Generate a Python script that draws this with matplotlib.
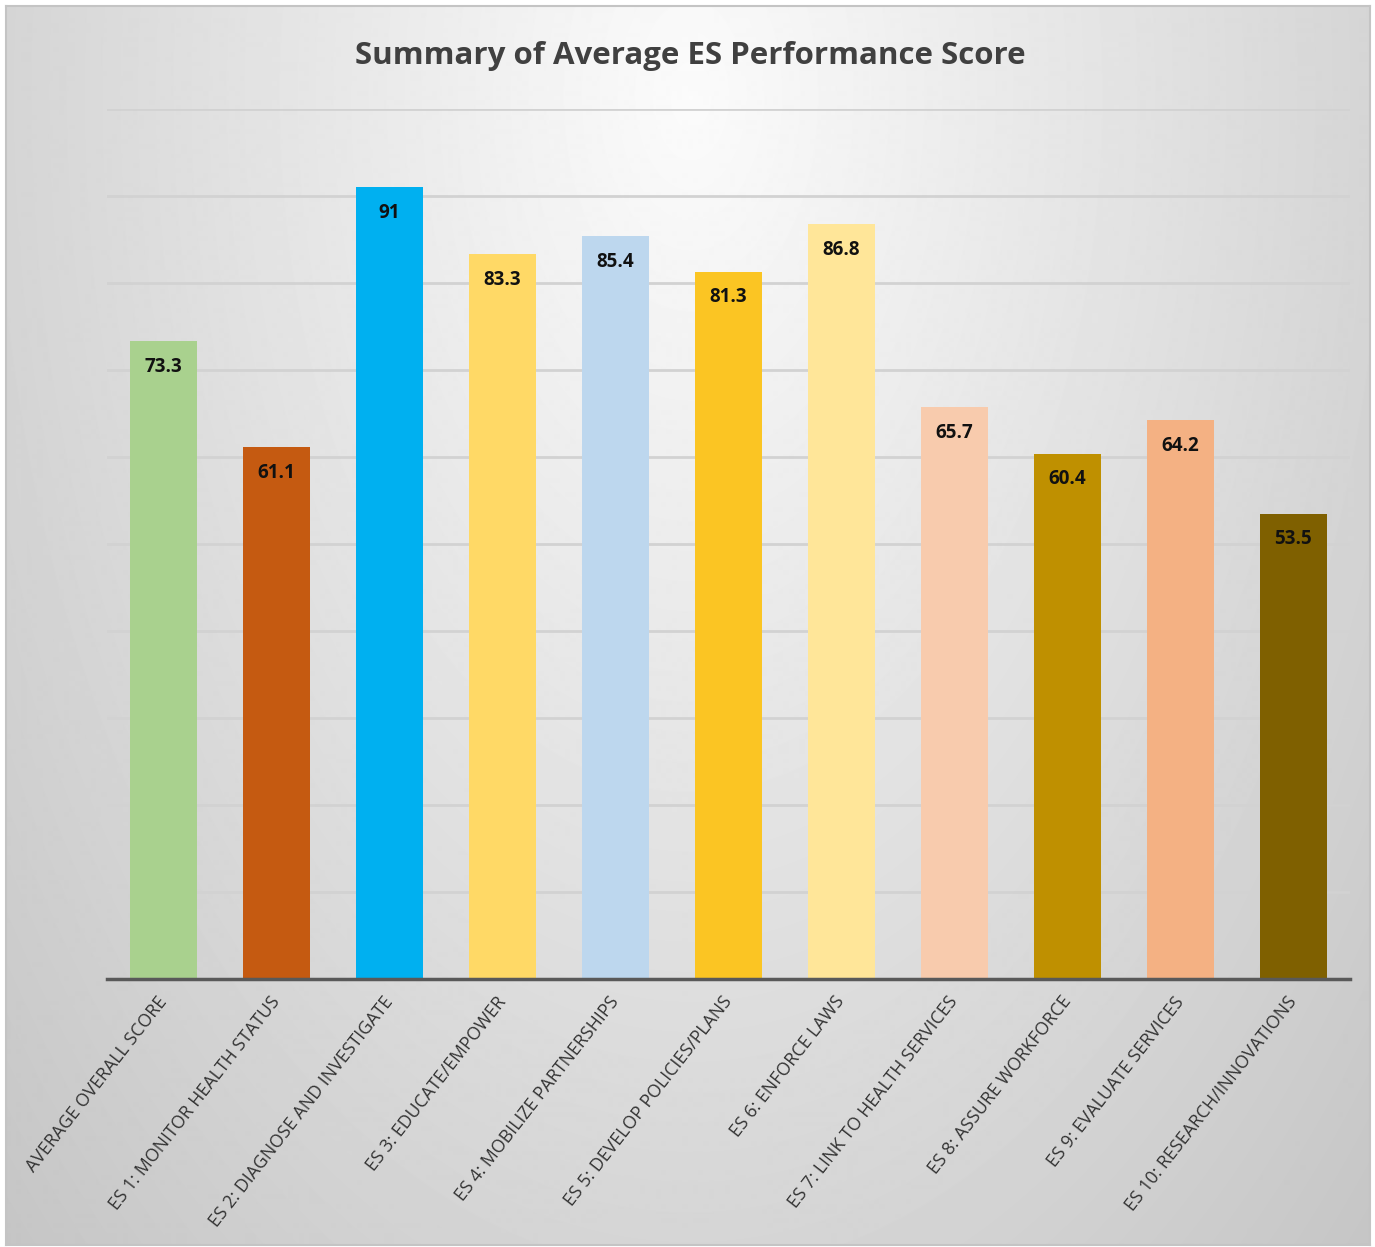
import numpy as np
import matplotlib
matplotlib.use("Agg")
import matplotlib.pyplot as plt

# Données
categories = ["AVERAGE OVERALL SCORE", "ES 1: MONITOR HEALTH STATUS",
              "ES 2: DIAGNOSE AND INVESTIGATE", "ES 3: EDUCATE/EMPOWER",
              "ES 4: MOBILIZE PARTNERSHIPS", "ES 5: DEVELOP POLICIES/PLANS",
              "ES 6: ENFORCE LAWS", "ES 7: LINK TO HEALTH SERVICES",
              "ES 8: ASSURE WORKFORCE", "ES 9: EVALUATE SERVICES",
              "ES 10: RESEARCH/INNOVATIONS"]
scores = [73.3, 61.1, 91, 83.3, 85.4, 81.3, 86.8, 65.7, 60.4, 64.2, 53.5]
colors = ["#A9D18E", "#C55A11", "#00B0F0", "#FFD966", "#BDD7EE", "#FBC523",
          "#FFE699", "#F8CBAD", "#BF9000", "#F4B183", "#7F6000"]

plt.rcParams['font.family'] = ['Open Sans', 'DejaVu Sans']

fig = plt.figure(figsize=(13.75, 12.47), dpi=100, facecolor="white")

# fond en dégradé radial
bg = fig.add_axes([0.0044, 0.002, 0.9916, 0.9935], zorder=-1)
h, w = 1240, 1365
yy, xx = np.mgrid[0:h, 0:w]
d = np.sqrt(((xx - 685) * 0.00022) ** 2 + ((yy - 90) * 0.00013) ** 2)
val = np.clip(0.985 - d, 0.74, 1.0)
bg.imshow(val, cmap="gray", vmin=0, vmax=1, aspect="auto", extent=[0, 1, 0, 1])
bg.set_xticks([])
bg.set_yticks([])
for s in bg.spines.values():
    s.set_color("#c4c4c4")
    s.set_linewidth(1.5)

ax = fig.add_axes([0.0778, 0.2149, 0.904, 0.6977])
ax.set_facecolor("none")
x = np.arange(len(categories))
ax.bar(x, scores, width=0.59, color=colors, zorder=3)
ax.set_xlim(-0.5, len(categories) - 0.5)
ax.set_ylim(0, 100)
ax.set_yticks(np.arange(0, 101, 10))
ax.yaxis.grid(True, color="#d2d2d2", lw=2, zorder=0)
ax.tick_params(axis="y", left=False, labelleft=False)
ax.tick_params(axis="x", length=0, pad=14)
ax.set_xticks(x)
ax.set_xticklabels(categories, rotation=52, ha="right", va="center",
                   rotation_mode="anchor", fontsize=12.8, color="#333333")
for s in ["top", "right", "left"]:
    ax.spines[s].set_visible(False)
ax.spines["bottom"].set_color("#595959")
ax.spines["bottom"].set_linewidth(2.5)
ax.spines["bottom"].set_zorder(4)

for xi, v in zip(x, scores):
    ax.annotate(f"{v:g}", (xi, v), xytext=(0, -18.5), textcoords="offset points",
                ha="center", va="center", fontsize=13.5, fontweight="bold",
                color="#111111", zorder=5)

fig.text(0.502, 0.955, "Summary of Average ES Performance Score", ha="center",
         va="center", fontsize=22.5, fontweight="bold", color="#404040")

plt.savefig("out.png", dpi=100, facecolor="white")
